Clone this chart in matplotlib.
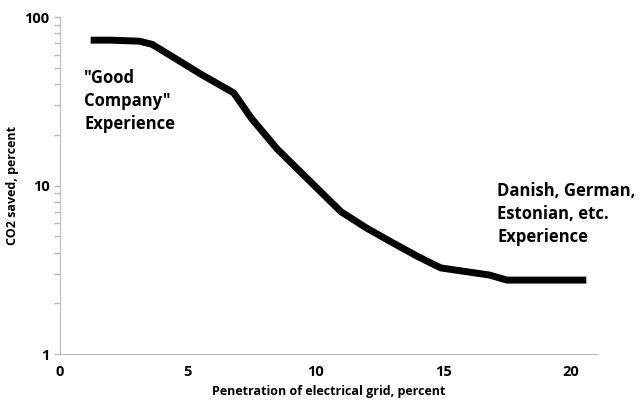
import matplotlib.pyplot as plt
from matplotlib.ticker import LogLocator, FixedLocator, NullFormatter

# penetration of electrical grid (%) vs CO2 saved (%)
penetracao = [1.2, 2.0, 3.1, 3.6, 4.5, 5.5, 6.8, 7.5, 8.5, 9.9, 11.0, 12.0, 13.0, 14.0, 14.9, 15.5, 16.8, 17.5, 19.0, 20.6]
co2_salvo = [73, 73, 72, 69, 57, 46, 35.5, 25, 16.5, 10.2, 7.0, 5.6, 4.6, 3.8, 3.25, 3.15, 2.95, 2.75, 2.75, 2.75]

xticks = [0, 5, 10, 15, 20]
yticks = [1, 10, 100]

plt.rcParams['font.family'] = ['Open Sans', 'DejaVu Sans']

fig = plt.figure(figsize=(6.41, 4.08), dpi=100)
ax = fig.add_axes([0.0936, 0.132, 0.837, 0.826])

ax.plot(penetracao, co2_salvo, color='black', linewidth=5, solid_capstyle='butt')

ax.set_yscale('log')
ax.set_ylim(1, 100)
ax.set_xlim(0, 21)
ax.yaxis.set_major_locator(FixedLocator(yticks))
ax.set_yticklabels([str(v) for v in yticks], fontweight='bold', fontsize=10.5)
ax.yaxis.set_minor_locator(LogLocator(base=10, subs=range(2, 10)))
ax.yaxis.set_minor_formatter(NullFormatter())
ax.set_xticks(xticks)
ax.set_xticklabels([str(v) for v in xticks], fontweight='bold', fontsize=10.5)

ax.tick_params(axis='y', which='both', colors='#bbbbbb', labelcolor='black', length=4, width=1)
ax.tick_params(axis='x', length=0, pad=8)

for s in ['top', 'right']:
    ax.spines[s].set_visible(False)
for s in ['left', 'bottom']:
    ax.spines[s].set_color('#bbbbbb')

ax.set_xlabel('Penetration of electrical grid, percent', fontweight='bold', fontsize=9)
ax.set_ylabel('CO2 saved, percent', fontweight='bold', fontsize=9)

ax.text(0.045, 0.845, '"Good\nCompany"\nExperience', transform=ax.transAxes,
        fontsize=12, fontweight='bold', va='top', ha='left', linespacing=1.35)
ax.text(0.815, 0.51, 'Danish, German,\nEstonian, etc.\nExperience', transform=ax.transAxes,
        fontsize=12, fontweight='bold', va='top', ha='left', linespacing=1.35)

plt.savefig('out.png', dpi=100)
